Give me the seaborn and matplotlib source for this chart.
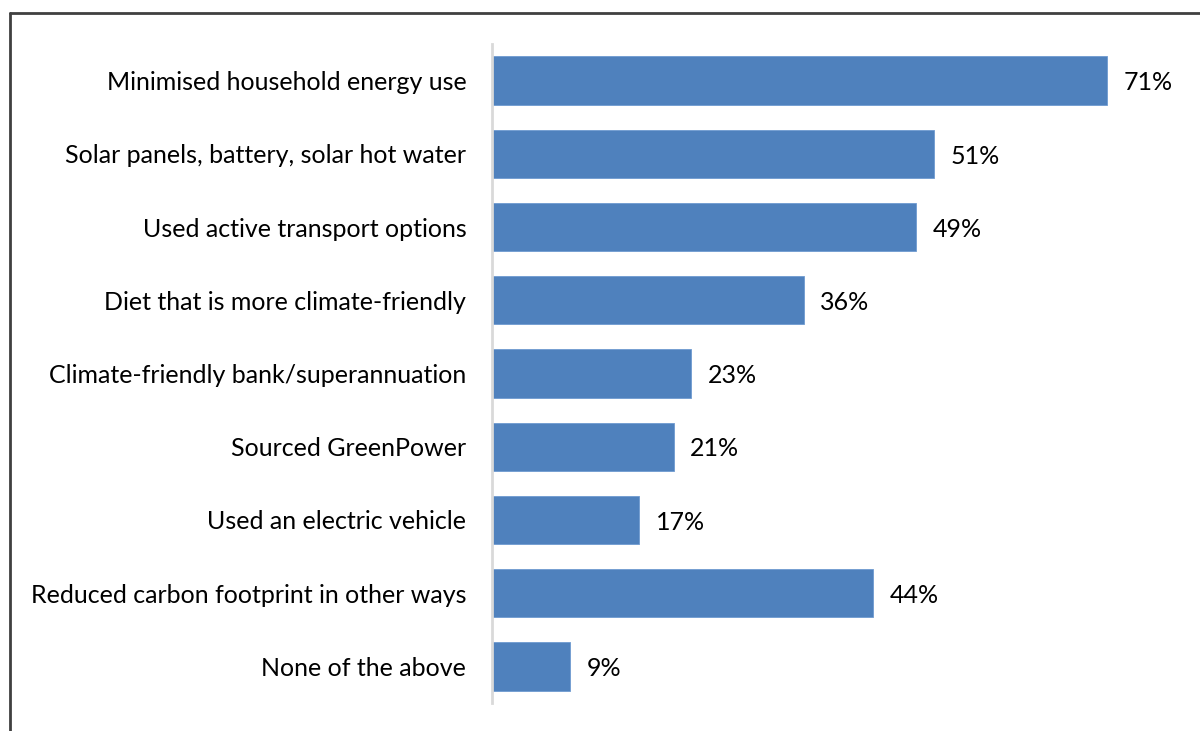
import matplotlib
matplotlib.use("Agg")
import matplotlib.pyplot as plt
import seaborn as sns
import pandas as pd
from matplotlib.lines import Line2D

categories = [
    "Minimised household energy use",
    "Solar panels, battery, solar hot water",
    "Used active transport options",
    "Diet that is more climate-friendly",
    "Climate-friendly bank/superannuation",
    "Sourced GreenPower",
    "Used an electric vehicle",
    "Reduced carbon footprint in other ways",
    "None of the above",
]
values = [71, 51, 49, 36, 23, 21, 17, 44, 9]

df = pd.DataFrame({"category": categories, "value": values})

sns.set_theme(style="white")
plt.rcParams["font.family"] = ["Lato", "DejaVu Sans"]

W, H = 1200, 731
fig = plt.figure(figsize=(W / 100, H / 100), dpi=100)
ax = fig.add_axes([492 / W, 1 - 703 / H, 693 / W, 659 / H])

sns.barplot(data=df, x="value", y="category", orient="h", color="#4f81bd",
            saturation=1, width=0.66, ax=ax, edgecolor="#6f9ad0", linewidth=0.6)

ax.set_xlim(0, 80)
ax.set_ylim(8.5, -0.5)
ax.set_xlabel("")
ax.set_ylabel("")
ax.set_xticks([])
for s in ["top", "right", "bottom"]:
    ax.spines[s].set_visible(False)
ax.spines["left"].set_color("#d9d9d9")
ax.spines["left"].set_linewidth(2)
ax.tick_params(axis="y", length=0, pad=18.5, labelsize=18, labelcolor="black")

for i, v in enumerate(values):
    ax.text(v + 1.9, i + 0.03, f"{v}%", va="center", ha="left", fontsize=18, color="black")

# outer border
fig.add_artist(Line2D([10 / W, 10 / W], [0, 1 - 13 / H], transform=fig.transFigure,
                      color="#404040", linewidth=2))
fig.add_artist(Line2D([10 / W, 1], [1 - 13 / H, 1 - 13 / H], transform=fig.transFigure,
                      color="#404040", linewidth=2))

fig.savefig("out.png", dpi=100)
